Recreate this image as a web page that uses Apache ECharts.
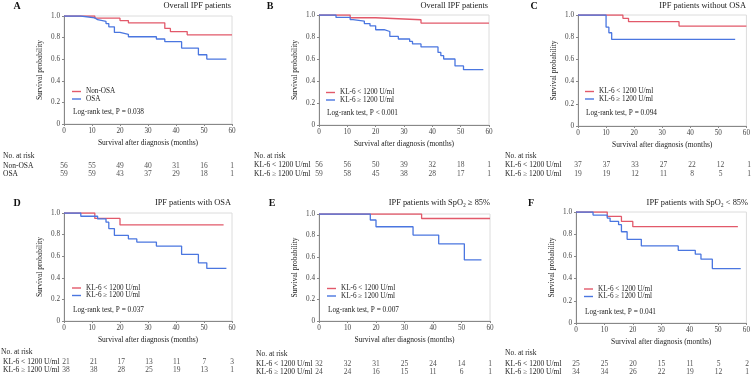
<!DOCTYPE html>
<html>
<head>
<meta charset="utf-8">
<title>KL-6 and survival in IPF</title>
<script src="https://cdn.jsdelivr.net/npm/echarts@6/dist/echarts.min.js"></script>
<style>
  html, body { margin: 0; padding: 0; background: #fff; }
  #chart { width: 753px; height: 377px; }
</style>
</head>
<body>
<div id="chart"></div>
<script>
// ---- data ----
const xTicks = [0, 10, 20, 30, 40, 50, 60];

const panelLetters = ['A', 'B', 'C', 'D', 'E', 'F'];
const panelTitles = [
  'Overall IPF patients',
  'Overall IPF patients',
  'IPF patients without OSA',
  'IPF patients with OSA',
  'IPF patients with SpO\u2082 \u2265 85%',
  'IPF patients with SpO\u2082 < 85%'
];
const logRankP = ['P = 0.038', 'P < 0.001', 'P = 0.094', 'P = 0.037', 'P = 0.007', 'P = 0.041'];

const groupLabels = [
  ['Non-OSA', 'OSA'],
  ['KL-6 < 1200 U/ml', 'KL-6 \u2265 1200 U/ml'],
  ['KL-6 < 1200 U/ml', 'KL-6 \u2265 1200 U/ml'],
  ['KL-6 < 1200 U/ml', 'KL-6 \u2265 1200 U/ml'],
  ['KL-6 < 1200 U/ml', 'KL-6 \u2265 1200 U/ml'],
  ['KL-6 < 1200 U/ml', 'KL-6 \u2265 1200 U/ml']
];

// Kaplan-Meier steps: [month, survival]
const lowCurves = [
  [[0, 1], [11, 0.98], [20, 0.958], [23, 0.937], [36, 0.885], [38, 0.856], [44, 0.826], [60, 0.826]],
  [[0, 1], [11, 0.975], [20, 0.957], [36, 0.927], [60, 0.927]],
  [[0, 1], [16, 0.97], [18, 0.94], [36, 0.90], [60, 0.90]],
  [[0, 1], [11, 0.95], [20, 0.89], [57, 0.89]],
  [[0, 1], [36, 0.958], [60, 0.958]],
  [[0, 1], [11, 0.96], [16, 0.915], [20, 0.868], [57, 0.868]]
];
const highCurves = [
  [[0, 1], [6, 0.983], [11, 0.966], [12, 0.95], [15, 0.93], [16, 0.9], [18, 0.848], [20, 0.83], [23, 0.808],
   [33, 0.787], [36, 0.762], [42, 0.703], [48, 0.641], [51, 0.601], [58, 0.601]],
  [[0, 1], [6, 0.978], [11, 0.958], [12, 0.945], [16, 0.922], [18, 0.902], [20, 0.866], [23, 0.85], [25, 0.805],
   [28, 0.782], [32, 0.76], [33, 0.737], [36, 0.71], [42, 0.66], [43, 0.63], [44, 0.60], [48, 0.537], [51, 0.503], [58, 0.503]],
  [[0, 1], [10, 0.89], [11, 0.84], [12, 0.78], [56, 0.78]],
  [[0, 1], [6, 0.97], [12, 0.945], [15, 0.915], [16, 0.856], [18, 0.792], [23, 0.76], [26, 0.731], [33, 0.694],
   [42, 0.616], [48, 0.539], [51, 0.487], [58, 0.487]],
  [[0, 1], [18, 0.944], [20, 0.881], [33, 0.803], [42, 0.721], [51, 0.571], [57, 0.571]],
  [[0, 1], [6, 0.972], [11, 0.945], [12, 0.915], [15, 0.886], [16, 0.822], [18, 0.754], [23, 0.694], [36, 0.655],
   [42, 0.62], [44, 0.575], [48, 0.49], [58, 0.49]]
];

// numbers at risk at 0, 10, ... 60 months
const lowAtRisk = [
  [56, 55, 49, 40, 31, 16, 1],
  [56, 56, 50, 39, 32, 18, 1],
  [37, 37, 33, 27, 22, 12, 1],
  [21, 21, 17, 13, 11, 7, 3],
  [32, 32, 31, 25, 24, 14, 1],
  [25, 25, 20, 15, 11, 5, 2]
];
const highAtRisk = [
  [59, 59, 43, 37, 29, 18, 1],
  [59, 58, 45, 38, 28, 17, 1],
  [19, 19, 12, 11, 8, 5, 1],
  [38, 38, 28, 25, 19, 13, 1],
  [24, 24, 16, 15, 11, 6, 1],
  [34, 34, 26, 22, 19, 12, 1]
];

// ---- layout (pixels) ----
const plotBoxes = [
  { left: 64, top: 16, width: 168, height: 108 },
  { left: 319, top: 15, width: 170, height: 110 },
  { left: 578, top: 15, width: 171, height: 111 },
  { left: 64, top: 213, width: 168, height: 108 },
  { left: 319, top: 214, width: 171, height: 107 },
  { left: 576, top: 212, width: 171, height: 111 }
];
// [letterX, letterY, titleRight, titleY]
const headPos = [
  [17, 6, 231, 6], [270, 6, 488, 6], [534, 6, 746, 6],
  [17, 203, 231, 203], [272, 203, 490, 203], [531, 203, 748, 203]
];
// [legendX, legendY, logRankX, logRankY]
const notePos = [
  [72, 88, 73, 112], [326, 89, 327, 113], [585, 88, 586, 113],
  [72, 284.5, 73, 310], [327, 285, 328, 310], [584, 285.5, 585, 312]
];
// [labelX, headerY, row1Y, row2Y]
const tablePos = [
  [3, 156, 165.7, 173.7], [254, 156, 165, 173.7], [505, 156, 165, 173.7],
  [1, 352, 362, 370.3], [256, 353.7, 363.7, 372.3], [505, 353.3, 363.7, 372]
];

const RED = '#E2596A';
const BLUE = '#4A76E0';
const FONT = 'Liberation Serif';
const TXT = '#222';

const grid = [], xAxis = [], yAxis = [], series = [], legend = [], graphic = [];

plotBoxes.forEach((box, i) => {
  // survival plot
  grid.push({ ...box, show: true, borderColor: '#dcdcdc', borderWidth: 1, backgroundColor: 'transparent' });
  xAxis.push({
    gridIndex: 2 * i, type: 'value', min: 0, max: 60, interval: 10,
    name: 'Survival after diagnosis (months)', nameLocation: 'middle', nameGap: 15,
    nameTextStyle: { fontFamily: FONT, fontSize: 7.5, color: TXT },
    axisLine: { lineStyle: { color: '#888', width: 1 } },
    axisTick: { show: true, length: 2, lineStyle: { color: '#888' } },
    axisLabel: { fontFamily: FONT, fontSize: 7.2, color: '#444', margin: 4 },
    splitLine: { show: false }
  });
  yAxis.push({
    gridIndex: 2 * i, type: 'value', min: 0, max: 1, interval: 0.2,
    name: 'Survival probability', nameLocation: 'middle', nameGap: 20,
    nameTextStyle: { fontFamily: FONT, fontSize: 7.5, color: TXT },
    axisLine: { show: true, lineStyle: { color: '#888', width: 1 } },
    axisTick: { show: true, length: 2, lineStyle: { color: '#888' } },
    axisLabel: {
      fontFamily: FONT, fontSize: 7.2, color: '#444', margin: 4,
      formatter: v => (v === 0 ? '0' : v.toFixed(1))
    },
    splitLine: { show: false }
  });
  series.push({
    name: groupLabels[i][0], type: 'line', step: 'end', symbol: 'none',
    xAxisIndex: 2 * i, yAxisIndex: 2 * i, data: lowCurves[i],
    lineStyle: { color: RED, width: 1.3 }, itemStyle: { color: RED }, z: 3
  });
  series.push({
    name: groupLabels[i][1], type: 'line', step: 'end', symbol: 'none',
    xAxisIndex: 2 * i, yAxisIndex: 2 * i, data: highCurves[i],
    lineStyle: { color: BLUE, width: 1.3 }, itemStyle: { color: BLUE }, z: 4
  });

  // at-risk table shares the x range of the plot above
  const [labelX, headerY, row1, row2] = tablePos[i];
  const sp = row2 - row1;
  grid.push({ left: box.left, width: box.width, top: row1 - sp / 2, height: 2 * sp });
  xAxis.push({ gridIndex: 2 * i + 1, type: 'value', min: 0, max: 60, interval: 10, show: false });
  yAxis.push({
    gridIndex: 2 * i + 1, type: 'category', inverse: true, data: groupLabels[i],
    axisLine: { show: false }, axisTick: { show: false }, splitLine: { show: false },
    axisLabel: {
      interval: 0, fontFamily: FONT, fontSize: 7.5, color: TXT,
      align: 'left', margin: box.left - labelX
    }
  });
  series.push({
    type: 'scatter', xAxisIndex: 2 * i + 1, yAxisIndex: 2 * i + 1, silent: true,
    symbolSize: 1, itemStyle: { color: 'transparent' },
    data: xTicks.map((t, k) => [t, 0, lowAtRisk[i][k]]).concat(xTicks.map((t, k) => [t, 1, highAtRisk[i][k]])),
    label: {
      show: true, position: 'inside', formatter: p => p.value[2],
      fontFamily: FONT, fontSize: 7.5, color: TXT
    }
  });

  const [lx, ly, px, py] = notePos[i];
  legend.push({
    data: groupLabels[i], left: lx, top: ly, orient: 'vertical', selectedMode: false,
    icon: 'rect', itemWidth: 9, itemHeight: 1.4, itemGap: 0.5, padding: 0,
    textStyle: { fontFamily: FONT, fontSize: 7.2, color: TXT, lineHeight: 7 }
  });

  const [ax, ay, tr, ty] = headPos[i];
  graphic.push({
    type: 'text', x: ax, y: ay,
    style: { text: panelLetters[i], font: 'bold 10px "Liberation Serif"', fill: '#111', textAlign: 'center', textVerticalAlign: 'middle' }
  });
  graphic.push({
    type: 'text', x: tr, y: ty,
    style: { text: panelTitles[i], font: '8.4px "Liberation Serif"', fill: TXT, textAlign: 'right', textVerticalAlign: 'middle' }
  });
  graphic.push({
    type: 'text', x: px, y: py,
    style: { text: 'Log-rank test, ' + logRankP[i], font: '7.3px "Liberation Serif"', fill: TXT, textAlign: 'left', textVerticalAlign: 'middle' }
  });
  graphic.push({
    type: 'text', x: labelX, y: headerY,
    style: { text: 'No. at risk', font: '7.5px "Liberation Serif"', fill: TXT, textAlign: 'left', textVerticalAlign: 'middle' }
  });
});

const chart = echarts.init(document.getElementById('chart'), null, { renderer: 'canvas' });
chart.setOption({
  backgroundColor: '#fff',
  animation: false,
  textStyle: { fontFamily: FONT },
  grid, xAxis, yAxis, series, legend, graphic
});
</script>
</body>
</html>
